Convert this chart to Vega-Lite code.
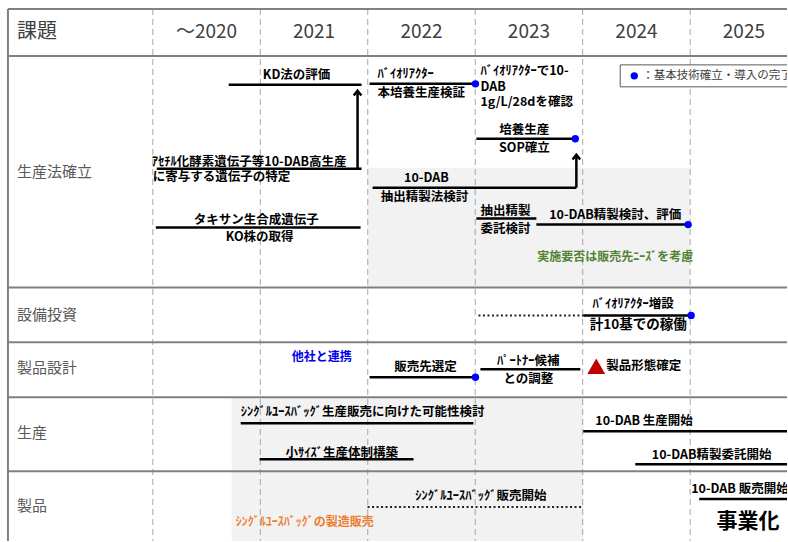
{
  "$schema": "https://vega.github.io/schema/vega-lite/v6.json",
  "width": 788,
  "height": 542,
  "autosize": {"type": "fit", "contains": "padding"},
  "padding": 0,
  "background": "white",
  "config": {"view": {"stroke": null}, "text": {"font": "Noto Sans CJK JP"}},
  "datasets": {
    "shade": [
      {"x": 2021.998, "x2": 2025.0, "y": 16.8, "y2": 28.8},
      {"x": 2020.734, "x2": 2024.005, "y": 39.8, "y2": 54.2}
    ],
    "legendbox": [
      {"x": 2024.349, "x2": 2025.95, "y": 6.5, "y2": 8.7}
    ],
    "grid": [
      {"x": 2020, "x2": 2020, "y": 0.9, "y2": 54.2},
      {"x": 2021, "x2": 2021, "y": 0.9, "y2": 54.2},
      {"x": 2022, "x2": 2022, "y": 0.9, "y2": 54.2},
      {"x": 2023, "x2": 2023, "y": 0.9, "y2": 54.2},
      {"x": 2024, "x2": 2024, "y": 0.9, "y2": 54.2},
      {"x": 2025, "x2": 2025, "y": 0.9, "y2": 54.2}
    ],
    "border": [
      {"x": 2018.652, "x2": 2025.901, "y": 0.9, "y2": 0.9},
      {"x": 2018.652, "x2": 2025.901, "y": 5.6, "y2": 5.6},
      {"x": 2018.652, "x2": 2025.901, "y": 28.8, "y2": 28.8},
      {"x": 2018.652, "x2": 2025.901, "y": 34.3, "y2": 34.3},
      {"x": 2018.652, "x2": 2025.901, "y": 39.8, "y2": 39.8},
      {"x": 2018.652, "x2": 2025.901, "y": 47.2, "y2": 47.2},
      {"x": 2018.652, "x2": 2018.652, "y": 0.9, "y2": 54.2}
    ],
    "solid": [
      {"x": 2020.706, "x2": 2021.942, "y": 8.5, "y2": 8.5},
      {"x": 2020.037, "x2": 2021.942, "y": 16.9, "y2": 16.9},
      {"x": 2020.028, "x2": 2021.933, "y": 22.8, "y2": 22.8},
      {"x": 2022.017, "x2": 2023.002, "y": 8.4, "y2": 8.4},
      {"x": 2023.011, "x2": 2023.931, "y": 13.9, "y2": 13.9},
      {"x": 2022.045, "x2": 2023.941, "y": 18.8, "y2": 18.8},
      {"x": 2023.011, "x2": 2023.569, "y": 21.9, "y2": 21.9},
      {"x": 2023.569, "x2": 2024.981, "y": 22.5, "y2": 22.5},
      {"x": 2024.005, "x2": 2025.0, "y": 31.6, "y2": 31.6},
      {"x": 2022.017, "x2": 2023.002, "y": 37.8, "y2": 37.8},
      {"x": 2023.048, "x2": 2023.978, "y": 37.0, "y2": 37.0},
      {"x": 2020.818, "x2": 2022.983, "y": 42.4, "y2": 42.4},
      {"x": 2020.994, "x2": 2022.426, "y": 46.0, "y2": 46.0},
      {"x": 2024.005, "x2": 2025.901, "y": 43.2, "y2": 43.2},
      {"x": 2024.489, "x2": 2025.901, "y": 46.5, "y2": 46.5},
      {"x": 2025.084, "x2": 2025.901, "y": 50.0, "y2": 50.0},
      {"x": 2021.905, "x2": 2021.905, "y": 16.9, "y2": 9.3},
      {"x": 2023.941, "x2": 2023.941, "y": 18.8, "y2": 15.7}
    ],
    "dotted": [
      {"x": 2023.03, "x2": 2024.005, "y": 31.6, "y2": 31.6},
      {"x": 2021.998, "x2": 2024.005, "y": 50.8, "y2": 50.8}
    ],
    "arrowheads": [
      {"x": 2021.905, "y": 9.1},
      {"x": 2023.941, "y": 15.5}
    ],
    "dots": [
      {"x": 2023.002, "y": 8.4},
      {"x": 2023.931, "y": 13.9},
      {"x": 2024.981, "y": 22.5},
      {"x": 2025.009, "y": 31.6},
      {"x": 2023.002, "y": 37.8},
      {"x": 2024.48, "y": 7.6}
    ],
    "milestones": [
      {"x": 2024.126, "y": 36.7}
    ],
    "labels": [
      {"kind": "hdr", "x": 2018.736, "y": 3.2, "text": "課題"},
      {"kind": "year", "x": 2020.5, "y": 3.2, "text": "～2020"},
      {"kind": "year", "x": 2021.5, "y": 3.2, "text": "2021"},
      {"kind": "year", "x": 2022.5, "y": 3.2, "text": "2022"},
      {"kind": "year", "x": 2023.5, "y": 3.2, "text": "2023"},
      {"kind": "year", "x": 2024.5, "y": 3.2, "text": "2024"},
      {"kind": "year", "x": 2025.5, "y": 3.2, "text": "2025"},
      {"kind": "row", "x": 2018.736, "y": 17.2, "text": "生産法確立"},
      {"kind": "row", "x": 2018.736, "y": 31.6, "text": "設備投資"},
      {"kind": "row", "x": 2018.736, "y": 36.9, "text": "製品設計"},
      {"kind": "row", "x": 2018.736, "y": 43.4, "text": "生産"},
      {"kind": "row", "x": 2018.736, "y": 50.7, "text": "製品"},
      {"kind": "c", "x": 2021.338, "y": 7.5, "text": "KD法の評価"},
      {"kind": "c", "x": 2020.962, "y": 22.0, "text": "タキサン生合成遺伝子"},
      {"kind": "c", "x": 2020.994, "y": 23.7, "text": "KO株の取得"},
      {"kind": "c", "x": 2023.457, "y": 13.0, "text": "培養生産"},
      {"kind": "c", "x": 2023.457, "y": 14.8, "text": "SOP確立"},
      {"kind": "c", "x": 2022.546, "y": 17.8, "text": "10-DAB"},
      {"kind": "c", "x": 2022.528, "y": 19.7, "text": "抽出精製法検討"},
      {"kind": "c", "x": 2024.303, "y": 21.5, "text": "10-DAB精製検討、評価"},
      {"kind": "c", "x": 2024.47, "y": 30.5, "text": "ﾊﾞｲｵﾘｱｸﾀｰ増設"},
      {"kind": "big", "x": 2024.517, "y": 32.6, "text": "計10基での稼働"},
      {"kind": "c", "x": 2022.537, "y": 36.8, "text": "販売先選定"},
      {"kind": "c", "x": 2023.494, "y": 36.2, "text": "ﾊﾟｰﾄﾅｰ候補"},
      {"kind": "c", "x": 2023.494, "y": 38.0, "text": "との調整"},
      {"kind": "c", "x": 2023.053, "y": 49.7, "text": "ｼﾝｸﾞﾙﾕｰｽﾊﾞｯｸﾞ販売開始"},
      {"kind": "c", "x": 2021.757, "y": 45.4, "text": "小ｻｲｽﾞ生産体制構築"},
      {"kind": "c", "x": 2025.2, "y": 45.6, "text": "10-DAB精製委託開始"},
      {"kind": "l", "x": 2019.991, "y": 16.2, "text": "ｱｾﾁﾙ化酵素遺伝子等10-DAB高生産"},
      {"kind": "l", "x": 2020.0, "y": 17.75, "text": "に寄与する遺伝子の特定"},
      {"kind": "l", "x": 2022.091, "y": 7.4, "text": "ﾊﾞｲｵﾘｱｸﾀｰ"},
      {"kind": "l", "x": 2022.091, "y": 9.3, "text": "本培養生産検証"},
      {"kind": "l", "x": 2023.048, "y": 7.15, "text": "ﾊﾞｲｵﾘｱｸﾀｰで10-"},
      {"kind": "l", "x": 2023.048, "y": 8.7, "text": "DAB"},
      {"kind": "l", "x": 2023.048, "y": 10.25, "text": "1g/L/28dを確認"},
      {"kind": "l", "x": 2023.048, "y": 21.1, "text": "抽出精製"},
      {"kind": "l", "x": 2023.048, "y": 22.9, "text": "委託検討"},
      {"kind": "l", "x": 2024.219, "y": 36.7, "text": "製品形態確定"},
      {"kind": "l", "x": 2020.818, "y": 41.3, "text": "ｼﾝｸﾞﾙﾕｰｽﾊﾞｯｸﾞ生産販売に向けた可能性検討"},
      {"kind": "l", "x": 2024.117, "y": 42.2, "text": "10-DAB 生産開始"},
      {"kind": "l", "x": 2025.009, "y": 49.0, "text": "10-DAB 販売開始"},
      {"kind": "blue", "x": 2021.571, "y": 35.8, "text": "他社と連携"},
      {"kind": "green", "x": 2024.303, "y": 25.7, "text": "実施要否は販売先ﾆｰｽﾞを考慮"},
      {"kind": "orange", "x": 2020.771, "y": 52.3, "text": "ｼﾝｸﾞﾙﾕｰｽﾊﾞｯｸﾞの製造販売"},
      {"kind": "biz", "x": 2025.539, "y": 52.3, "text": "事業化"},
      {"kind": "legend", "x": 2024.554, "y": 7.6, "text": "：基本技術確立・導入の完了"}
    ]
  },
  "encoding": {
    "x": {"field": "x", "type": "quantitative", "axis": null, "scale": {"domain": [2018.578, 2025.901], "nice": false, "zero": false}},
    "y": {"field": "y", "type": "quantitative", "axis": null, "scale": {"domain": [0, 54.2], "reverse": true, "nice": false, "zero": false}}
  },
  "layer": [
    {
      "data": {"name": "shade"},
      "mark": {"type": "rect", "fill": "#f2f2f2", "clip": true},
      "encoding": {"x2": {"field": "x2"}, "y2": {"field": "y2"}}
    },
    {
      "data": {"name": "grid"},
      "mark": {"type": "rule", "stroke": "#a6a6a6", "strokeWidth": 1, "strokeDash": [6, 4]},
      "encoding": {"x2": {"field": "x2"}, "y2": {"field": "y2"}}
    },
    {
      "data": {"name": "border"},
      "mark": {"type": "rule", "stroke": "#808080", "strokeWidth": 2},
      "encoding": {"x2": {"field": "x2"}, "y2": {"field": "y2"}}
    },
    {
      "data": {"name": "legendbox"},
      "mark": {"type": "rect", "fill": "white", "stroke": "#595959", "strokeWidth": 1, "clip": true},
      "encoding": {"x2": {"field": "x2"}, "y2": {"field": "y2"}}
    },
    {
      "data": {"name": "solid"},
      "mark": {"type": "rule", "stroke": "black", "strokeWidth": 2.5, "clip": true},
      "encoding": {"x2": {"field": "x2"}, "y2": {"field": "y2"}}
    },
    {
      "data": {"name": "dotted"},
      "mark": {"type": "rule", "stroke": "#222222", "strokeWidth": 2, "strokeDash": [2, 2.5]},
      "encoding": {"x2": {"field": "x2"}, "y2": {"field": "y2"}}
    },
    {
      "data": {"name": "arrowheads"},
      "mark": {"type": "point", "shape": "M-0.8,1L0,0L0.8,1", "filled": false, "stroke": "black", "strokeWidth": 2.5, "size": 90, "opacity": 1},
      "encoding": {}
    },
    {
      "data": {"name": "dots"},
      "mark": {"type": "point", "shape": "circle", "filled": true, "fill": "#0000ff", "size": 55, "opacity": 1, "clip": true},
      "encoding": {}
    },
    {
      "data": {"name": "milestones"},
      "mark": {"type": "point", "shape": "triangle-up", "filled": true, "fill": "#c00000", "size": 320, "opacity": 1},
      "encoding": {}
    },
    {
      "data": {"name": "labels"},
      "transform": [{"filter": "datum.kind === 'hdr'"}],
      "mark": {"type": "text", "align": "left", "baseline": "middle", "fontSize": 20, "color": "#404040"},
      "encoding": {"text": {"field": "text"}}
    },
    {
      "data": {"name": "labels"},
      "transform": [{"filter": "datum.kind === 'year'"}],
      "mark": {"type": "text", "align": "center", "baseline": "middle", "fontSize": 19, "color": "#404040", "clip": true},
      "encoding": {"text": {"field": "text"}}
    },
    {
      "data": {"name": "labels"},
      "transform": [{"filter": "datum.kind === 'row'"}],
      "mark": {"type": "text", "align": "left", "baseline": "middle", "fontSize": 15, "color": "#595959"},
      "encoding": {"text": {"field": "text"}}
    },
    {
      "data": {"name": "labels"},
      "transform": [{"filter": "datum.kind === 'c'"}],
      "mark": {"type": "text", "align": "center", "baseline": "middle", "fontSize": 12.5, "fontWeight": "bold", "color": "black", "clip": true},
      "encoding": {"text": {"field": "text"}}
    },
    {
      "data": {"name": "labels"},
      "transform": [{"filter": "datum.kind === 'big'"}],
      "mark": {"type": "text", "align": "center", "baseline": "middle", "fontSize": 13.5, "fontWeight": "bold", "color": "black"},
      "encoding": {"text": {"field": "text"}}
    },
    {
      "data": {"name": "labels"},
      "transform": [{"filter": "datum.kind === 'l'"}],
      "mark": {"type": "text", "align": "left", "baseline": "middle", "fontSize": 12.5, "fontWeight": "bold", "color": "black", "clip": true},
      "encoding": {"text": {"field": "text"}}
    },
    {
      "data": {"name": "labels"},
      "transform": [{"filter": "datum.kind === 'blue'"}],
      "mark": {"type": "text", "align": "center", "baseline": "middle", "fontSize": 12, "fontWeight": "bold", "color": "#0000ee"},
      "encoding": {"text": {"field": "text"}}
    },
    {
      "data": {"name": "labels"},
      "transform": [{"filter": "datum.kind === 'green'"}],
      "mark": {"type": "text", "align": "center", "baseline": "middle", "fontSize": 12, "fontWeight": "bold", "color": "#548235"},
      "encoding": {"text": {"field": "text"}}
    },
    {
      "data": {"name": "labels"},
      "transform": [{"filter": "datum.kind === 'orange'"}],
      "mark": {"type": "text", "align": "left", "baseline": "middle", "fontSize": 12, "fontWeight": "bold", "color": "#ed7d31"},
      "encoding": {"text": {"field": "text"}}
    },
    {
      "data": {"name": "labels"},
      "transform": [{"filter": "datum.kind === 'biz'"}],
      "mark": {"type": "text", "align": "center", "baseline": "middle", "fontSize": 21, "fontWeight": "bold", "color": "black", "clip": true},
      "encoding": {"text": {"field": "text"}}
    },
    {
      "data": {"name": "labels"},
      "transform": [{"filter": "datum.kind === 'legend'"}],
      "mark": {"type": "text", "align": "left", "baseline": "middle", "fontSize": 11.5, "color": "#404040", "clip": true},
      "encoding": {"text": {"field": "text"}}
    }
  ]
}
